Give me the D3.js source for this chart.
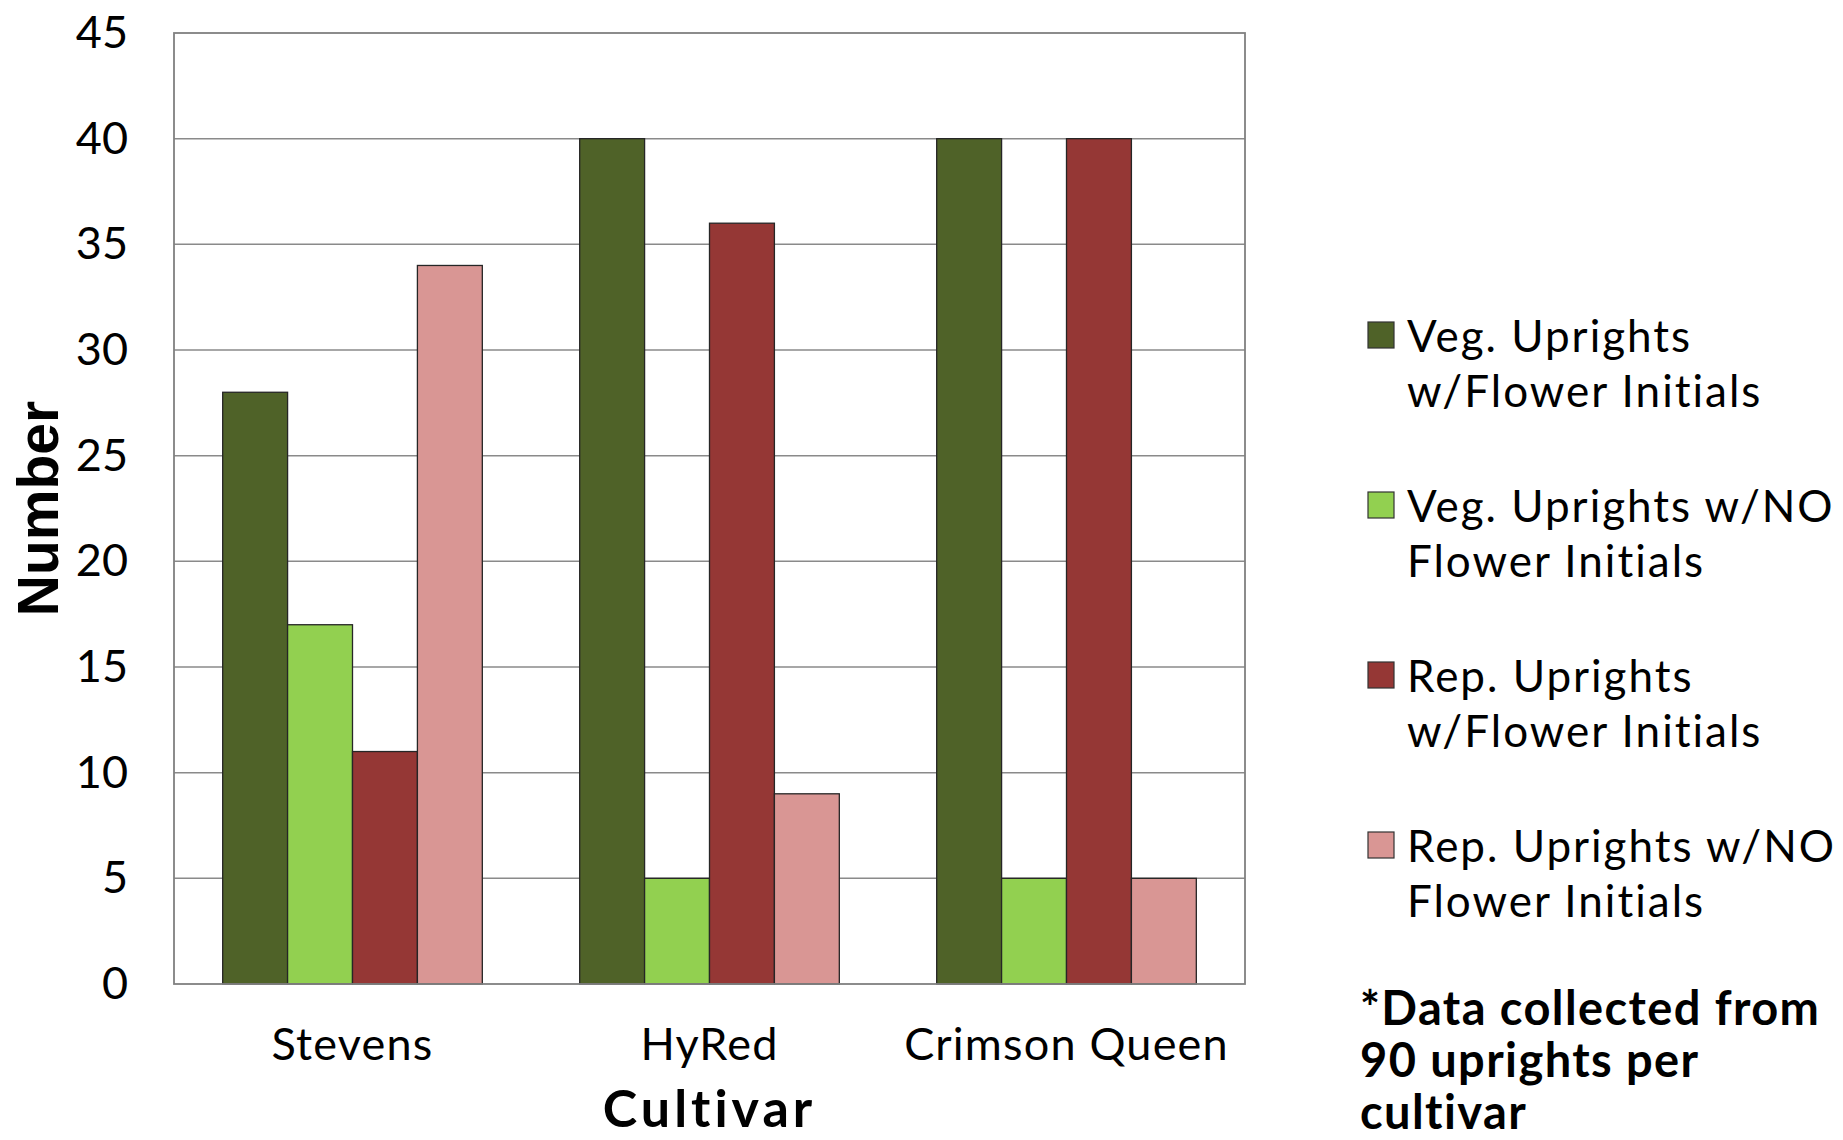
<!DOCTYPE html>
<html>
<head>
<meta charset="utf-8">
<script src="https://cdn.jsdelivr.net/npm/d3@7"></script>
<style>
  html, body { margin: 0; padding: 0; background: #fff; }
  svg { display: block; }
</style>
</head>
<body>
<svg id="chart" width="1843" height="1140"></svg>
<script>
// Cultivars on the x axis
const cultivars = ["Stevens", "HyRed", "Crimson Queen"];

// Series names (legend text, split into the lines shown)
const seriesNames = [
  "Veg. Uprights w/Flower Initials",
  "Veg. Uprights w/NO Flower Initials",
  "Rep. Uprights w/Flower Initials",
  "Rep. Uprights w/NO Flower Initials"
];
const legendLines = [
  ["Veg. Uprights", "w/Flower Initials"],
  ["Veg. Uprights w/NO", "Flower Initials"],
  ["Rep. Uprights", "w/Flower Initials"],
  ["Rep. Uprights w/NO", "Flower Initials"]
];

// Counts per cultivar, one array per series (order follows cultivars)
const vegWithInitials   = [28, 40, 40];
const vegNoInitials     = [17, 5, 5];
const repWithInitials   = [11, 36, 40];
const repNoInitials     = [34, 9, 5];

const yTicks = [0, 5, 10, 15, 20, 25, 30, 35, 40, 45];
const footnoteLines = ["*Data collected from", "90 uprights per", "cultivar"];

const seriesColors = ["#4F6228", "#92D050", "#953735", "#D99694"];

const seriesValues = [vegWithInitials, vegNoInitials, repWithInitials, repNoInitials];
const rows = cultivars.map((c, i) => ({
  cultivar: c,
  values: seriesNames.map((s, j) => ({ series: s, value: seriesValues[j][i] }))
}));

const FONT = "Lato, 'Open Sans', sans-serif";
const svg = d3.select("#chart");
const plot = { left: 174, right: 1245, top: 33, bottom: 984 };

const y = d3.scaleLinear().domain([0, 45]).range([plot.bottom, plot.top]);

// gap between groups = 1.5 bar widths
const gapRatio = 1.5 / (seriesNames.length + 1.5);
const x0 = d3.scaleBand()
  .domain(cultivars)
  .range([plot.left, plot.right])
  .paddingInner(gapRatio)
  .paddingOuter(gapRatio / 2);
const x1 = d3.scaleBand()
  .domain(seriesNames)
  .range([0, x0.bandwidth()]);
const color = d3.scaleOrdinal().domain(seriesNames).range(seriesColors);

// horizontal gridlines
svg.append("g")
  .selectAll("line")
  .data(yTicks.filter(t => t > 0 && t < 45))
  .join("line")
  .attr("x1", plot.left).attr("x2", plot.right)
  .attr("y1", d => y(d)).attr("y2", d => y(d))
  .attr("stroke", "#8a8a8a")
  .attr("stroke-width", 1.5);

// bars
svg.append("g")
  .selectAll("g")
  .data(rows)
  .join("g")
  .attr("transform", d => `translate(${x0(d.cultivar)},0)`)
  .selectAll("rect")
  .data(d => d.values)
  .join("rect")
  .attr("x", d => x1(d.series))
  .attr("width", x1.bandwidth())
  .attr("y", d => y(d.value))
  .attr("height", d => y(0) - y(d.value))
  .attr("fill", d => color(d.series))
  .attr("stroke", "#262626")
  .attr("stroke-width", 1.3);

// plot frame
svg.append("rect")
  .attr("x", plot.left).attr("y", plot.top)
  .attr("width", plot.right - plot.left)
  .attr("height", plot.bottom - plot.top)
  .attr("fill", "none")
  .attr("stroke", "#808080")
  .attr("stroke-width", 1.8);

// y axis labels
const yAxis = d3.axisLeft(y).tickValues(yTicks).tickSize(0).tickPadding(46);
const yg = svg.append("g")
  .attr("transform", `translate(${plot.left},0)`)
  .call(yAxis);
yg.select(".domain").remove();
yg.selectAll("text")
  .attr("font-family", FONT)
  .attr("font-size", 45)
  .attr("fill", "#000");

// x axis labels
const xAxis = d3.axisBottom(x0).tickSize(0).tickPadding(0);
const xg = svg.append("g")
  .attr("transform", `translate(0,${plot.bottom})`)
  .call(xAxis);
xg.select(".domain").remove();
xg.selectAll("text")
  .attr("font-family", FONT)
  .attr("font-size", 45)
  .attr("letter-spacing", 1.2)
  .attr("fill", "#000")
  .attr("dy", null)
  .attr("y", 76);

// axis titles
svg.append("text")
  .attr("x", (plot.left + plot.right) / 2)
  .attr("y", 1127)
  .attr("text-anchor", "middle")
  .attr("font-family", FONT)
  .attr("font-weight", "bold")
  .attr("font-size", 52)
  .attr("letter-spacing", 4)
  .text("Cultivar");

svg.append("text")
  .attr("transform", `translate(58,${(plot.top + plot.bottom) / 2}) rotate(-90)`)
  .attr("text-anchor", "middle")
  .attr("font-family", "'Liberation Sans', Arial, sans-serif")
  .attr("font-weight", "bold")
  .attr("font-size", 57)
  .text("Number");

// legend
const legend = svg.append("g").attr("transform", "translate(1368,322)");
const item = legend.selectAll("g")
  .data(seriesNames)
  .join("g")
  .attr("transform", (d, i) => `translate(0,${i * 170})`);
item.append("rect")
  .attr("width", 26).attr("height", 26)
  .attr("fill", d => color(d))
  .attr("stroke", "#333")
  .attr("stroke-width", 1.2);
item.append("text")
  .attr("font-family", FONT)
  .attr("font-size", 44)
  .attr("letter-spacing", 2)
  .attr("fill", "#000")
  .selectAll("tspan")
  .data((d, i) => legendLines[i])
  .join("tspan")
  .attr("x", 39)
  .attr("y", (d, i) => 30 + i * 55)
  .text(d => d);

// footnote
svg.append("text")
  .attr("font-family", FONT)
  .attr("font-weight", "bold")
  .attr("font-size", 47)
  .attr("letter-spacing", 1.4)
  .selectAll("tspan")
  .data(footnoteLines)
  .join("tspan")
  .attr("x", 1360)
  .attr("y", (d, i) => 1025 + i * 52)
  .text(d => d);
</script>
</body>
</html>
